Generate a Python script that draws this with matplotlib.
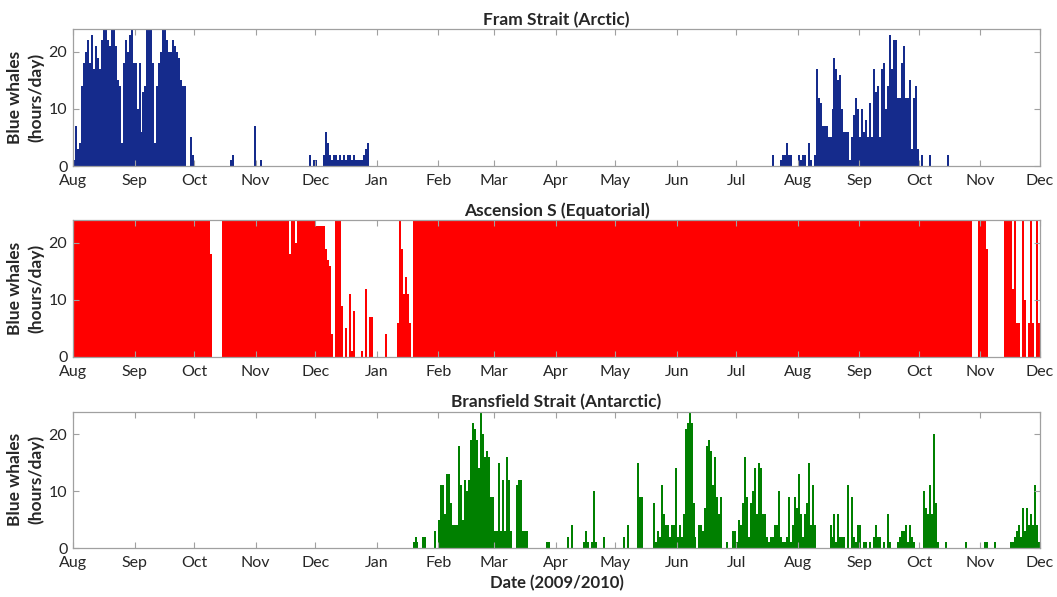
import numpy as np
import pandas as pd
import matplotlib
matplotlib.use("Agg")
import matplotlib.pyplot as plt

plt.rcParams['font.family'] = ['Lato', 'DejaVu Sans']

# ---------------- data (hours/day, one value per day, month by month) ----------------
months_label = ["Aug", "Sep", "Oct", "Nov", "Dec", "Jan", "Feb", "Mar", "Apr",
                "May", "Jun", "Jul", "Aug", "Sep", "Oct", "Nov", "Dec"]

# Fram Strait (Arctic)
fram_2009_aug = [1, 7, 3, 4, 14, 18, 20, 22, 18, 23, 17, 21, 19, 17, 22, 24, 24, 22, 21, 24,
                 24, 21, 15, 14, 4, 18, 22, 20, 23, 24, 18]
fram_2009_sep = [18, 10, 18, 6, 13, 14, 24, 24, 24, 18, 4, 14, 18, 20, 24, 24, 22, 20, 20, 22,
                 21, 20, 19, 15, 14, 14, 0, 0, 5, 2]
fram_2009_oct = [0] * 18 + [1, 2] + [0] * 10 + [7]
fram_2009_nov = [0, 0, 1] + [0] * 24 + [2, 0, 1]
fram_2009_dec = [1, 0, 0, 0, 2, 6, 4, 2, 1, 2, 2, 1, 2, 1, 2, 1, 2, 2, 1, 2, 1, 1, 1, 1, 2, 3, 4,
                 0, 0, 0, 0]
fram_2010_jan = [0] * 31
fram_2010_feb = [0] * 28
fram_2010_mar = [0] * 31
fram_2010_apr = [0] * 30
fram_2010_may = [0] * 31
fram_2010_jun = [0] * 30
fram_2010_jul = [0] * 18 + [2, 0, 0, 0, 1, 2, 2, 4, 2, 2, 0, 0, 0]
fram_2010_aug = [2, 1, 2, 2, 0, 4, 1, 0, 2, 17, 12, 11, 7, 7, 7, 5, 5, 10, 19, 17, 15, 16, 10,
                 6, 6, 6, 1, 5, 9, 12, 10]
fram_2010_sep = [5, 10, 6, 8, 5, 11, 5, 17, 13, 14, 5, 17, 18, 10, 14, 23, 17, 22, 22, 12, 12,
                 18, 21, 12, 12, 15, 3, 12, 14, 3]
fram_2010_oct = [0, 2, 0, 0, 0, 2, 0, 0, 0, 0, 0, 0, 0, 0, 2] + [0] * 16
fram_2010_nov = [0] * 30

# Ascension S (Equatorial)
asc_2009_aug = [24] * 31
asc_2009_sep = [24] * 30
asc_2009_oct = [24] * 8 + [18] + [0] * 5 + [24] * 17
asc_2009_nov = [24] * 17 + [18, 24, 24, 20] + [24] * 9
asc_2009_dec = [23, 23, 23, 23, 23, 19, 17, 16, 4, 0, 24, 24, 24, 9, 0, 5, 0, 11, 1, 8, 0, 0, 0,
                1, 0, 12, 0, 7, 7, 0, 0]
asc_2010_jan = [0, 0, 0, 0, 4, 0, 0, 0, 0, 0, 6, 24, 19, 11, 14, 11, 6, 0] + [24] * 13
asc_2010_feb = [24] * 28
asc_2010_mar = [24] * 31
asc_2010_apr = [24] * 30
asc_2010_may = [24] * 31
asc_2010_jun = [24] * 30
asc_2010_jul = [24] * 31
asc_2010_aug = [24] * 31
asc_2010_sep = [24] * 30
asc_2010_oct = [24] * 27 + [0, 0, 0] + [24]
asc_2010_nov = [24, 24, 24, 19, 0, 0, 0, 0, 0, 0, 0, 0, 24, 24, 24, 24, 12, 24, 6, 6, 0, 24, 10,
                0, 6, 24, 6, 0, 24, 6]

# Bransfield Strait (Antarctic)
bra_2009_aug = [0] * 31
bra_2009_sep = [0] * 30
bra_2009_oct = [0] * 31
bra_2009_nov = [0] * 30
bra_2009_dec = [0] * 31
bra_2010_jan = [0] * 18 + [1, 2, 1, 0, 0, 2, 2, 0, 0, 0, 0, 3, 0]
bra_2010_feb = [5, 11, 11, 6, 13, 13, 8, 4, 4, 4, 18, 11, 5, 12, 10, 12, 19, 22, 21, 19, 14, 24,
                20, 16, 17, 16, 9, 9]
bra_2010_mar = [3, 3, 15, 3, 12, 3, 16, 12, 3, 0, 0, 11, 12, 12, 3, 3, 3] + [0] * 9 + [1, 1, 0, 0, 0]
bra_2010_apr = [0, 0, 0, 0, 0, 0, 2, 0, 4, 0, 0, 0, 0, 0, 1, 3, 1, 0, 1, 10, 1, 0, 0, 0, 2, 0,
                0, 0, 0, 0]
bra_2010_may = [0, 0, 0, 0, 2, 0, 4, 0, 0, 0, 0, 15, 9, 9, 0, 0, 0, 0, 0, 8, 1, 3, 2, 11, 6, 4,
                4, 2, 4, 4, 14]
bra_2010_jun = [2, 4, 2, 6, 21, 22, 24, 22, 8, 2, 0, 4, 4, 3, 7, 18, 19, 17, 11, 16, 9, 6, 9, 0,
                0, 1, 0, 0, 3, 3]
bra_2010_jul = [1, 5, 4, 8, 16, 9, 2, 8, 10, 14, 6, 15, 14, 6, 6, 2, 1, 2, 2, 4, 4, 10, 2, 1, 1,
                2, 9, 1, 4, 9, 7]
bra_2010_aug = [13, 6, 2, 6, 8, 15, 4, 11, 4, 0, 0, 0, 0, 0, 0, 0, 4, 2, 6, 1, 6, 2, 2, 2, 0, 11,
                0, 9, 2, 1, 4]
bra_2010_sep = [4, 0, 1, 1, 0, 1, 0, 2, 4, 2, 2, 0, 1, 0, 6, 1, 0, 0, 0, 1, 2, 3, 3, 4, 1, 4, 2,
                1, 0, 0]
bra_2010_oct = [0, 0, 10, 7, 6, 11, 6, 20, 8, 1, 0, 0, 0, 1] + [0] * 9 + [1] + [0] * 7
bra_2010_nov = [0, 0, 1, 1, 0, 0, 0, 1, 0, 0, 0, 0, 0, 0, 0, 1, 1, 2, 3, 4, 2, 7, 3, 7, 4, 6, 4,
                11, 4, 1]

fram = np.concatenate([fram_2009_aug, fram_2009_sep, fram_2009_oct, fram_2009_nov, fram_2009_dec,
                       fram_2010_jan, fram_2010_feb, fram_2010_mar, fram_2010_apr, fram_2010_may,
                       fram_2010_jun, fram_2010_jul, fram_2010_aug, fram_2010_sep, fram_2010_oct,
                       fram_2010_nov])
asc = np.concatenate([asc_2009_aug, asc_2009_sep, asc_2009_oct, asc_2009_nov, asc_2009_dec,
                      asc_2010_jan, asc_2010_feb, asc_2010_mar, asc_2010_apr, asc_2010_may,
                      asc_2010_jun, asc_2010_jul, asc_2010_aug, asc_2010_sep, asc_2010_oct,
                      asc_2010_nov])
bra = np.concatenate([bra_2009_aug, bra_2009_sep, bra_2009_oct, bra_2009_nov, bra_2009_dec,
                      bra_2010_jan, bra_2010_feb, bra_2010_mar, bra_2010_apr, bra_2010_may,
                      bra_2010_jun, bra_2010_jul, bra_2010_aug, bra_2010_sep, bra_2010_oct,
                      bra_2010_nov])

titles = ["Fram Strait (Arctic)", "Ascension S (Equatorial)", "Bransfield Strait (Antarctic)"]
colors = ["#152b8c", "#ff0000", "#008000"]

start = pd.Timestamp("2009-08-01")
end = pd.Timestamp("2010-12-01")
days = pd.date_range(start, periods=len(fram), freq="D")
month_ticks = pd.date_range(start, end, freq="MS")

# ---------------- figure ----------------
W, H = 1057, 597
fig = plt.figure(figsize=(W / 100, H / 100), dpi=100)

left, right = 73, 1040
panels_px = [(29, 166), (220, 357), (411.5, 548)]
text_col = "#262626"
spine_col = "#a0a0a0"

for (top, bot), series, title, col in zip(panels_px, [fram, asc, bra], titles, colors):
    ax = fig.add_axes([left / W, 1 - bot / H, (right - left) / W, (bot - top) / H])
    ax.bar(days, series, width=1.0, align='edge', color=col, linewidth=0)
    ax.set_xlim(start, end)
    ax.set_ylim(0, 24)
    ax.set_yticks([0, 10, 20])
    ax.set_xticks(month_ticks)
    ax.set_xticklabels(months_label)
    ax.tick_params(axis='both', direction='in', length=4, width=0.8, colors=spine_col,
                   labelcolor=text_col, labelsize=11.5, top=True, right=True)
    ax.tick_params(axis='x', pad=6)
    ax.tick_params(axis='y', pad=4)
    for s in ax.spines.values():
        s.set_color(spine_col)
        s.set_linewidth(0.9)
    ax.set_title(title, fontsize=12.5, fontweight='bold', color=text_col, pad=3)
    ax.set_ylabel("Blue whales\n(hours/day)", fontsize=12.5, fontweight='bold', color=text_col,
                  labelpad=3, linespacing=1.4)
    last = ax

last.set_xlabel("Date (2009/2010)", fontsize=12, fontweight='bold', color=text_col, labelpad=3)

fig.savefig("out.png", dpi=100)
